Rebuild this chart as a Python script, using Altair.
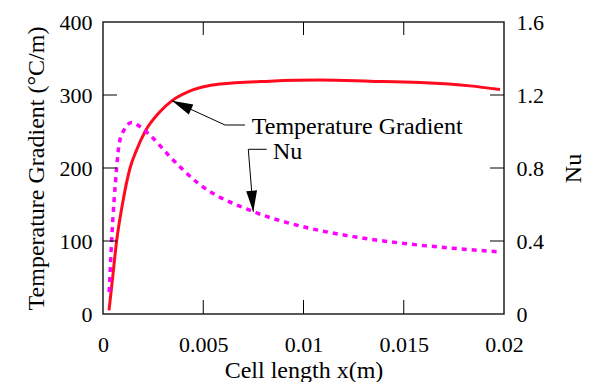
import altair as alt
import pandas as pd

# ---- data ----
x_temp = [0.0003, 0.00047, 0.00068, 0.00096, 0.00135, 0.00168, 0.0021, 0.00284, 0.00343,
          0.00426, 0.00584, 0.00833, 0.01082, 0.01332, 0.01581, 0.0183, 0.0198]
temp_grad = [5, 47, 100, 149, 200, 225, 250, 277, 292, 304.5, 315, 319, 320.5, 319, 317,
             312.5, 307.5]

x_nu = [0.00031, 0.00043, 0.00068, 0.00081, 0.00105, 0.00143, 0.0018, 0.00234, 0.00334,
        0.00475, 0.0075, 0.00999, 0.01248, 0.01498, 0.01747, 0.01972]
nu = [0.12, 0.40, 0.80, 0.935, 1.008, 1.05, 1.03, 0.981, 0.862, 0.716, 0.561,
      0.478, 0.424, 0.387, 0.36, 0.341]

x_ticks = [0, 0.005, 0.01, 0.015, 0.02]
temp_ticks = [0, 100, 200, 300, 400]
nu_ticks = [0, 0.4, 0.8, 1.2, 1.6]
inner_x_ticks = [0.005, 0.01, 0.015]
inner_y_ticks = [100, 200, 300]

# annotation anchor points (data coordinates)
temp_arrow_x = [0.00344, 0.006085, 0.00708]
temp_arrow_t = [292.2, 258.9, 258.9]
nu_arrow_x = [0.008165, 0.007247, 0.007496]
nu_arrow_t = [225.6, 225.6, 140.1]
labels = ["Temperature Gradient", "Nu"]
label_x = [0.00742, 0.00848]
label_t = [246.6, 212.0]

W, H = 401, 292
FONT = "Liberation Serif"
LFS = 22
TFS = 24
RED = "#ff0a1e"
MAG = "#ff00ff"

df_t = pd.DataFrame({"x": x_temp, "T": temp_grad})
df_n = pd.DataFrame({"x": x_nu, "Nu": nu})
df_arrows = pd.DataFrame({
    "x": temp_arrow_x + nu_arrow_x,
    "T": temp_arrow_t + nu_arrow_t,
    "grp": ["t"] * 3 + ["n"] * 3,
    "ord": [0, 1, 2] * 2,
})
df_head_t = pd.DataFrame({"x": [temp_arrow_x[0]], "T": [temp_arrow_t[0]]})
df_head_n = pd.DataFrame({"x": [nu_arrow_x[2]], "T": [nu_arrow_t[2]]})
df_lab = pd.DataFrame({"x": label_x, "T": label_t, "txt": labels})
df_yt = pd.DataFrame({"T": inner_y_ticks})
df_xt = pd.DataFrame({"x": inner_x_ticks})


def x_enc():
    return alt.X("x:Q", scale=alt.Scale(domain=[0, 0.02], nice=False, zero=False),
                 axis=alt.Axis(orient="bottom", values=x_ticks,
                               labelExpr="format(datum.value, '~g')",
                               title="Cell length x(m)",
                               ticks=False, domain=False, grid=False, labelPadding=20,
                               titleY=63, titleBaseline="alphabetic",
                               labelFlush=False, labelOverlap=False))


def t_plain():
    return alt.Y("T:Q", scale=alt.Scale(domain=[0, 400], nice=False, zero=False), axis=None)


temp = alt.Chart(df_t).mark_line(color=RED, strokeWidth=3, interpolate="monotone").encode(
    x=x_enc(),
    y=alt.Y("T:Q", scale=alt.Scale(domain=[0, 400], nice=False, zero=False),
            axis=alt.Axis(orient="left", values=temp_ticks,
                          labelExpr="format(datum.value, 'd')",
                          title="Temperature Gradient (°C/m)",
                          ticks=False, domain=False, grid=False, labelPadding=11,
                          titlePadding=11, labelFlush=False, labelOverlap=False)),
)

nu_line = alt.Chart(df_n).mark_line(color=MAG, strokeWidth=3.5, strokeDash=[5, 5],
                                    interpolate="monotone").encode(
    x=x_enc(),
    y=alt.Y("Nu:Q", scale=alt.Scale(domain=[0, 1.6], nice=False, zero=False),
            axis=alt.Axis(orient="right", values=nu_ticks,
                          labelExpr="format(datum.value, '~g')", title="Nu",
                          ticks=False, domain=False, grid=False, labelPadding=12,
                          titlePadding=18, titleAngle=270, titleBaseline="top",
                          labelFlush=False, labelOverlap=False)),
)

ytick_l = alt.Chart(df_yt).mark_rule(color="black", strokeWidth=1).encode(
    y=t_plain(), x=alt.value(0), x2=alt.value(14))
ytick_r = alt.Chart(df_yt).mark_rule(color="black", strokeWidth=1).encode(
    y=t_plain(), x=alt.value(W - 14), x2=alt.value(W))
xtick_b = alt.Chart(df_xt).mark_rule(color="black", strokeWidth=1).encode(
    x=x_enc(), y=alt.value(H), y2=alt.value(H - 14))
xtick_t = alt.Chart(df_xt).mark_rule(color="black", strokeWidth=1).encode(
    x=x_enc(), y=alt.value(0), y2=alt.value(13))

arrows = alt.Chart(df_arrows).mark_line(color="black", strokeWidth=1).encode(
    x=x_enc(), y=t_plain(), detail="grp:N", order="ord:Q")

HEAD = "M0,0L0.52,2L-0.52,2Z"
head_t = alt.Chart(df_head_t).mark_point(shape=HEAD, filled=True, size=441, color="black",
                                          opacity=1, strokeWidth=0, angle=294.6).encode(
    x=x_enc(), y=t_plain())
head_n = alt.Chart(df_head_n).mark_point(shape=HEAD, filled=True, size=441, color="black",
                                          opacity=1, strokeWidth=0, angle=175.4).encode(
    x=x_enc(), y=t_plain())

texts = alt.Chart(df_lab).mark_text(align="left", baseline="alphabetic", font=FONT,
                                    fontSize=TFS, color="black").encode(
    x=x_enc(), y=t_plain(), text="txt:N")

chart = alt.layer(
    temp, nu_line, ytick_l, ytick_r, xtick_b, xtick_t, arrows, head_t, head_n, texts
).resolve_scale(y="independent").properties(
    width=W, height=H,
    background="white",
    autosize=alt.AutoSizeParams(type="none"),
    padding={"left": 95, "top": 14, "right": 82, "bottom": 68},
).configure_view(stroke="#222222", strokeWidth=1.5).configure_axis(
    labelFont=FONT, titleFont=FONT, labelFontSize=LFS, titleFontSize=TFS,
    labelColor="black", titleColor="black", titleFontWeight="normal",
)

chart.save("out.html", embed_options={"renderer": "svg", "actions": False})
